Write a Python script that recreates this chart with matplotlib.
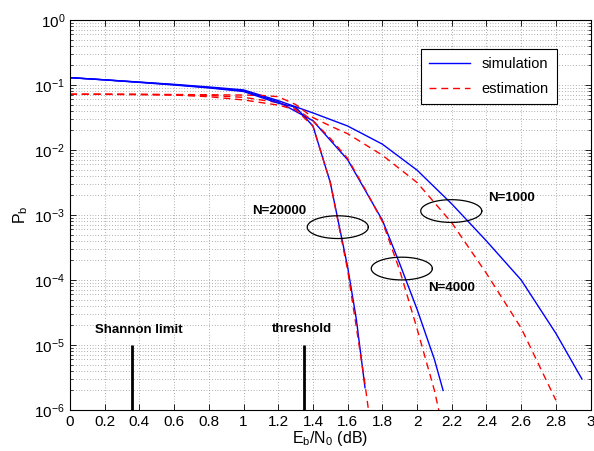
import numpy as np
import matplotlib
matplotlib.use('Agg')
from matplotlib import pyplot as plt
from matplotlib.ticker import FixedLocator, NullFormatter

plt.rcParams['font.family'] = ['Liberation Sans', 'DejaVu Sans']
plt.rcParams['mathtext.fontset'] = 'custom'
plt.rcParams['mathtext.rm'] = 'Liberation Sans'
plt.rcParams['mathtext.it'] = 'Liberation Sans'
plt.rcParams['mathtext.bf'] = 'Liberation Sans:bold'
plt.rcParams['mathtext.default'] = 'regular'

# simulation curves (Eb/N0 in dB, bit error probability)
sim_1000_x = [0, 0.2, 0.4, 0.6, 0.8, 1.0, 1.2, 1.4, 1.6, 1.8, 2.0, 2.2, 2.4, 2.6, 2.8, 2.95]
sim_1000_pb = [0.1297, 0.1202, 0.1109, 0.1023, 0.0933, 0.0841, 0.0575, 0.0372, 0.0234, 0.0123,
               0.0049, 0.00148, 0.000398, 1.0e-4, 1.51e-5, 3.0e-6]

sim_4000_x = [0, 0.2, 0.4, 0.6, 0.8, 1.0, 1.2, 1.4, 1.6, 1.8, 1.9, 2.0, 2.1, 2.15]
sim_4000_pb = [0.1297, 0.1202, 0.1104, 0.1012, 0.0912, 0.0813, 0.0550, 0.0282, 0.00708, 0.000832,
               0.000178, 3.55e-5, 6.0e-6, 2.0e-6]

sim_20000_x = [0, 0.2, 0.4, 0.6, 0.8, 1.0, 1.2, 1.3, 1.4, 1.5, 1.6, 1.65, 1.7]
sim_20000_pb = [0.1297, 0.1197, 0.1096, 0.1000, 0.0902, 0.0794, 0.0525, 0.0457, 0.0234, 0.00316,
                0.000158, 2.5e-5, 2.2e-6]

# estimation curves
est_1000_x = [0, 0.2, 0.4, 0.6, 0.8, 1.0, 1.1, 1.2, 1.3, 1.4, 1.5, 1.6, 1.8, 2.0, 2.2, 2.4, 2.6, 2.8]
est_1000_pb = [0.0719, 0.0719, 0.0718, 0.0714, 0.0708, 0.0700, 0.0692, 0.0661, 0.0501, 0.0316,
               0.0234, 0.0178, 0.00832, 0.00316, 0.000759, 0.000126, 1.82e-5, 1.41e-6]

est_4000_x = [0, 0.2, 0.4, 0.6, 0.8, 1.0, 1.2, 1.3, 1.4, 1.5, 1.6, 1.7, 1.8, 1.9, 2.0, 2.1, 2.15]
est_4000_pb = [0.0719, 0.0719, 0.0716, 0.0708, 0.0692, 0.0646, 0.0537, 0.0437, 0.0282, 0.0151,
               0.00741, 0.00251, 0.000794, 0.000141, 1.78e-5, 2.0e-6, 5.0e-7]

est_20000_x = [0, 0.2, 0.4, 0.6, 0.8, 1.0, 1.2, 1.3, 1.4, 1.5, 1.6, 1.7, 1.75]
est_20000_pb = [0.0719, 0.0718, 0.0713, 0.0700, 0.0661, 0.0589, 0.0490, 0.0417, 0.0234, 0.00316,
                0.000141, 2.5e-6, 2.5e-7]

# markers for Shannon limit and threshold
limit_x = [0.36, 1.35]
limit_labels = ['Shannon limit', 'threshold']

# ellipse groups: label, centre x, centre Pb, label x, label Pb
group_labels = ['N=20000', 'N=4000', 'N=1000']
group_cx = [1.543, 1.912, 2.197]
group_cy = [6.5e-4, 1.5e-4, 1.15e-3]
group_tx = [1.047, 2.065, 2.411]
group_ty = [1.15e-3, 7.6e-5, 1.82e-3]

xtick_vals = [0, 0.2, 0.4, 0.6, 0.8, 1.0, 1.2, 1.4, 1.6, 1.8, 2.0, 2.2, 2.4, 2.6, 2.8, 3.0]
xtick_labels = ['0', '0.2', '0.4', '0.6', '0.8', '1', '1.2', '1.4', '1.6', '1.8',
                '2', '2.2', '2.4', '2.6', '2.8', '3']
ytick_exp = [-6, -5, -4, -3, -2, -1, 0]

fig = plt.figure(figsize=(5.94, 4.51), dpi=100)
ax = fig.add_axes([70 / 594, 41 / 451, 520.6 / 594, 390 / 451])
ax.set_yscale('log')

dash = (0, (5, 3.5))
ax.plot(sim_1000_x, sim_1000_pb, color='#0000ff', lw=1.0, label='simulation')
ax.plot(est_1000_x, est_1000_pb, color='#ff0000', lw=1.0, ls=dash, label='estimation')
ax.plot(sim_4000_x, sim_4000_pb, color='#0000ff', lw=1.0)
ax.plot(est_4000_x, est_4000_pb, color='#ff0000', lw=1.0, ls=dash)
ax.plot(sim_20000_x, sim_20000_pb, color='#0000ff', lw=1.0)
ax.plot(est_20000_x, est_20000_pb, color='#ff0000', lw=1.0, ls=dash)

ax.vlines(limit_x, 1e-6, 1e-5, color='k', lw=2.0)
ax.text(0.144, 1.7e-5, limit_labels[0], fontsize=9.5, fontweight='bold', va='center', ha='left')
ax.text(1.166, 1.78e-5, limit_labels[1], fontsize=9.5, fontweight='bold', va='center', ha='left')

t = np.linspace(0, 2 * np.pi, 200)
for lab, cx, cy, tx, ty in zip(group_labels, group_cx, group_cy, group_tx, group_ty):
    ax.plot(cx + 0.176 * np.cos(t), cy * 10 ** (0.175 * np.sin(t)), color='k', lw=0.9)
    ax.text(tx, ty, lab, fontsize=9.5, fontweight='bold', va='center', ha='left')

ax.set_xlim(0, 3)
ax.set_ylim(1e-6, 1)
ax.set_xticks(xtick_vals)
ax.set_xticklabels(xtick_labels)
ax.set_yticks([10.0 ** e for e in ytick_exp])
ax.set_yticklabels(['$10^{%d}$' % e for e in ytick_exp])
minor_y = [m * 10.0 ** e for e in ytick_exp[:-1] for m in range(2, 10)]
ax.yaxis.set_minor_locator(FixedLocator(minor_y))
ax.yaxis.set_minor_formatter(NullFormatter())

ax.tick_params(which='both', direction='in', top=True, right=True, labelsize=11)
ax.tick_params(which='major', length=4, width=0.6)
ax.tick_params(which='minor', length=2, width=0.5)
for s in ax.spines.values():
    s.set_linewidth(0.8)

grid_style = dict(color='0.4', lw=0.5, ls=(0, (1, 3)))
ax.grid(True, which='major', axis='both', **grid_style)
ax.grid(True, which='minor', axis='y', **grid_style)

ax.set_xlabel('$E_b/N_0$ (dB)', fontsize=11.5, labelpad=0)
ax.set_ylabel('$P_b$', fontsize=11.5, labelpad=3)

leg = ax.legend(loc='upper right', bbox_to_anchor=(0.935, 0.925), borderaxespad=0,
                fontsize=10.5, handlelength=2.8, labelspacing=0.75, borderpad=0.55,
                fancybox=False, framealpha=1)
leg.get_frame().set_edgecolor('k')
leg.get_frame().set_linewidth(0.8)

fig.savefig('out.png', dpi=100)
